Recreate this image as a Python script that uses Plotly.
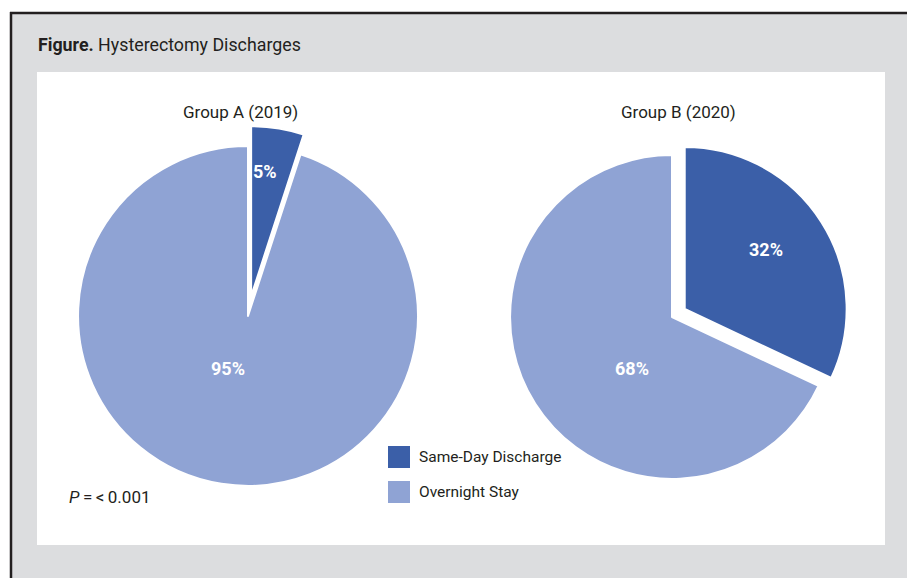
import plotly.graph_objects as go

# ---- data ----
categories = ["Same-Day Discharge", "Overnight Stay"]
group_a_values = [5, 95]
group_b_values = [32, 68]
group_titles = ["Group A (2019)", "Group B (2020)"]
slice_colors = ["#3b5fa8", "#8fa3d4"]
p_text = "<i>P</i>\u2009=\u2009<\u20090.001"
fig_title_bold = "Figure."
fig_title_rest = "Hysterectomy Discharges"

W, H = 907, 578
FONT = "Roboto, Arial, sans-serif"
TXT = "#231f20"


def px(x):
    return x / W


def py(y):
    return 1 - y / H


fig = go.Figure()

common = dict(
    labels=categories,
    sort=False,
    direction="clockwise",
    rotation=0,
    marker=dict(colors=slice_colors, line=dict(color="white", width=2)),
    textinfo="none",
    showlegend=False,
    hoverinfo="label+percent",
)

fig.add_trace(go.Pie(values=group_a_values, pull=[0.118, 0],
                     domain=dict(x=[px(58), px(438)], y=[py(506), py(126)]),
                     **common))
fig.add_trace(go.Pie(values=group_b_values, pull=[0.093, 0],
                     domain=dict(x=[px(495), px(849)], y=[py(494), py(140)]),
                     **common))

shapes = [
    dict(type="rect", xref="paper", yref="paper", x0=px(10), x1=1, y0=0, y1=py(12),
         fillcolor="#dcdddf", line=dict(width=0), layer="below"),
    dict(type="rect", xref="paper", yref="paper", x0=px(37), x1=px(885), y0=py(545), y1=py(72),
         fillcolor="white", line=dict(width=0), layer="below"),
    dict(type="line", xref="paper", yref="paper", x0=px(10), x1=1, y0=py(13), y1=py(13),
         line=dict(color=TXT, width=2.5), layer="below"),
    dict(type="line", xref="paper", yref="paper", x0=px(11), x1=px(11), y0=0, y1=py(12),
         line=dict(color=TXT, width=2.5), layer="below"),
]

leg_tops = [446, 481]
for c, top in zip(slice_colors, leg_tops):
    shapes.append(dict(type="rect", xref="paper", yref="paper",
                       x0=px(388), x1=px(410), y0=py(top + 22), y1=py(top),
                       fillcolor=c, line=dict(width=0)))

annotations = [
    dict(text=f"<b>{fig_title_bold}</b> {fig_title_rest}", x=px(36), y=py(45),
         xanchor="left", yanchor="middle", showarrow=False,
         font=dict(family=FONT, size=17.8, color=TXT)),
    dict(text=group_titles[0], x=px(240), y=py(112), xanchor="center", yanchor="middle",
         showarrow=False, font=dict(family=FONT, size=17, color=TXT)),
    dict(text=group_titles[1], x=px(678), y=py(112), xanchor="center", yanchor="middle",
         showarrow=False, font=dict(family=FONT, size=17, color=TXT)),
    dict(text=p_text, x=px(67), y=py(497), xanchor="left", yanchor="middle",
         showarrow=False, font=dict(family=FONT, size=17, color=TXT)),
]
for cat, top in zip(categories, leg_tops):
    annotations.append(dict(text=cat, x=px(417), y=py(top + 11), xanchor="left", yanchor="middle",
                            showarrow=False, font=dict(family=FONT, size=15.5, color=TXT)))

# slice percentage labels
label_pos_a = [(265, 171), (228, 368)]
label_pos_b = [(766, 250), (632, 368)]
for vals, poss in ((group_a_values, label_pos_a), (group_b_values, label_pos_b)):
    for v, (x, y) in zip(vals, poss):
        annotations.append(dict(text=f"<b>{v}%</b>", x=px(x), y=py(y), xanchor="center",
                                yanchor="middle", showarrow=False,
                                font=dict(family=FONT, size=18, color="white")))

fig.update_layout(
    width=W, height=H,
    margin=dict(l=0, r=0, t=0, b=0),
    paper_bgcolor="white",
    shapes=shapes,
    annotations=annotations,
)

fig.write_html("out.html", config={"displayModeBar": False},
               post_script="document.body.style.margin='0';")
